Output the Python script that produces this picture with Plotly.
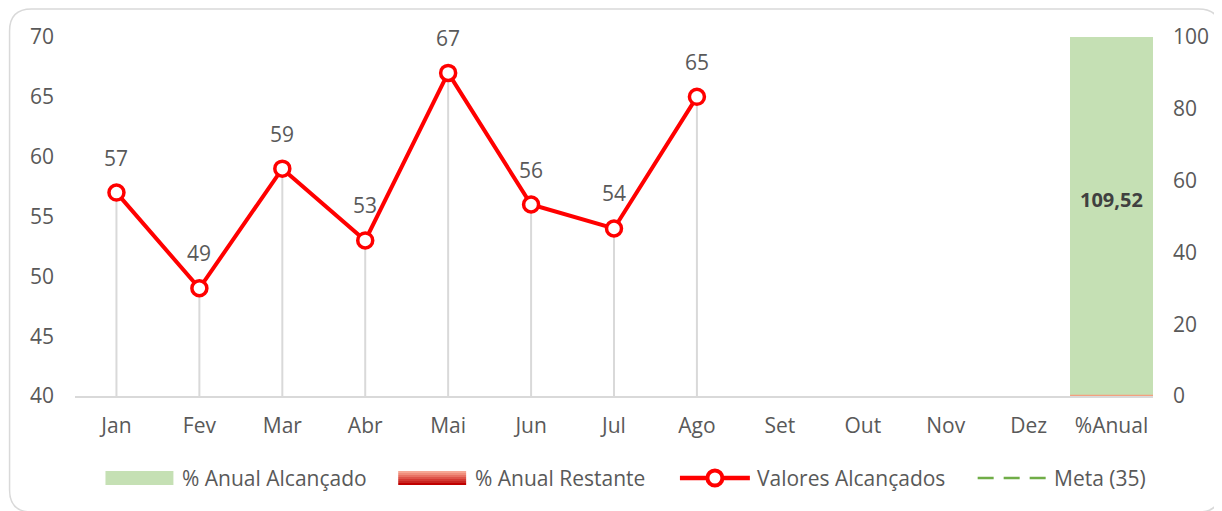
"""Valores alcançados por mês com % anual (estilo Excel)."""

import plotly.graph_objects as go

meses = ["Jan", "Fev", "Mar", "Abr", "Mai", "Jun", "Jul", "Ago", "Set", "Out", "Nov", "Dez", "%Anual"]
valores = [57, 49, 59, 53, 67, 56, 54, 65]
meta = 35
pct_anual = 109.52
pct_restante = max(0, 100 - pct_anual)

W, H = 1222, 511
OFF = 8  # margem do <body> da página
M = dict(l=74.5 - OFF, r=W - 1153.5 + OFF, t=37 - OFF, b=H - 396 + OFF)
FONT = "Open Sans, Noto Sans, sans-serif"
GRAY = "#595959"
FS = 21


def px_x(x):
    return (x - OFF - M["l"]) / (W - M["l"] - M["r"])


def px_y(y):
    return (H - M["b"] - (y - OFF)) / (H - M["t"] - M["b"])


fig = go.Figure()

# barras do % anual (eixo direito)
fig.add_trace(go.Bar(
    x=["%Anual"], y=[pct_anual], yaxis="y2", name="% Anual Alcançado",
    marker=dict(color="#c5e0b4", line=dict(width=0)), showlegend=False,
))
fig.add_trace(go.Bar(
    x=["%Anual"], y=[pct_restante], yaxis="y2", name="% Anual Restante",
    marker=dict(color="#e05050", line=dict(width=0)), showlegend=False,
))

# linhas verticais (drop lines)
fig.add_trace(go.Scatter(
    x=meses[:len(valores)], y=valores, mode="markers", marker=dict(size=0.1, opacity=0),
    error_y=dict(type="data", symmetric=False, array=[0] * len(valores),
                 arrayminus=[v - 40 for v in valores], color="#d9d9d9", thickness=2, width=0),
    showlegend=False, hoverinfo="skip",
))

# meta (fora da escala visível)
fig.add_trace(go.Scatter(
    x=meses, y=[meta] * len(meses), mode="lines", name="Meta (35)",
    line=dict(color="#70ad47", width=2.5, dash="16px,10px"), showlegend=False,
))

fig.add_trace(go.Scatter(
    x=meses[:len(valores)], y=valores, mode="lines+markers", name="Valores Alcançados",
    line=dict(color="#ff0000", width=4),
    marker=dict(size=15, color="white", line=dict(color="#ff0000", width=3.5)),
    showlegend=False,
))

# rótulos dos pontos
for m, v in zip(meses, valores):
    fig.add_annotation(x=m, y=v, text=str(v), showarrow=False, yshift=35,
                       font=dict(size=FS, color=GRAY, family=FONT))

fig.add_annotation(x="%Anual", y=pct_anual / 2, yref="y2", text=f"<b>{pct_anual:.2f}</b>".replace(".", ","),
                   showarrow=False, font=dict(size=20, color="#404040", family=FONT))

shapes = []
# linha fina do % restante
shapes.append(dict(type="line", xref="x", yref="y2", x0=11.5, x1=12.5, y0=pct_restante, y1=pct_restante,
                   line=dict(color="#f4a080", width=2.5)))

# borda arredondada
x0, x1, y0, y1, r = 9, 1221, 9, 512, 22
pts = [
    f"M {px_x(x0 + r)},{px_y(y0)}",
    f"L {px_x(x1 - r)},{px_y(y0)}",
    f"Q {px_x(x1)},{px_y(y0)} {px_x(x1)},{px_y(y0 + r)}",
    f"L {px_x(x1)},{px_y(y1 - r)}",
    f"Q {px_x(x1)},{px_y(y1)} {px_x(x1 - r)},{px_y(y1)}",
    f"L {px_x(x0 + r)},{px_y(y1)}",
    f"Q {px_x(x0)},{px_y(y1)} {px_x(x0)},{px_y(y1 - r)}",
    f"L {px_x(x0)},{px_y(y0 + r)}",
    f"Q {px_x(x0)},{px_y(y0)} {px_x(x0 + r)},{px_y(y0)} Z",
]
shapes.append(dict(type="path", xref="paper", yref="paper", path=" ".join(pts),
                   line=dict(color="#d9d9d9", width=1.5), layer="below"))

# legenda manual
LY = 478
shapes.append(dict(type="rect", xref="paper", yref="paper", x0=px_x(105), x1=px_x(173),
                   y0=px_y(LY + 7), y1=px_y(LY - 7), fillcolor="#c5e0b4", line=dict(width=0)))
grad = ["#f6a693", "#f08e7c", "#e87264", "#de554a", "#d43a33", "#c92420", "#c00000"]
step = 14 / len(grad)
for i, c in enumerate(grad):
    shapes.append(dict(type="rect", xref="paper", yref="paper", x0=px_x(398), x1=px_x(466),
                       y0=px_y(LY - 7 + step * (i + 1)), y1=px_y(LY - 7 + step * i),
                       fillcolor=c, line=dict(width=0)))
shapes.append(dict(type="line", xref="paper", yref="paper", x0=px_x(680), x1=px_x(750),
                   y0=px_y(LY), y1=px_y(LY), line=dict(color="#ff0000", width=4.5)))
shapes.append(dict(type="circle", xref="paper", yref="paper", x0=px_x(707.5), x1=px_x(722.5),
                   y0=px_y(LY + 7.5), y1=px_y(LY - 7.5), fillcolor="white",
                   line=dict(color="#ff0000", width=4)))
shapes.append(dict(type="line", xref="paper", yref="paper", x0=px_x(978), x1=px_x(1049),
                   y0=px_y(LY), y1=px_y(LY), line=dict(color="#70ad47", width=2.5, dash="16px,10px")))

for xt, txt in [(180, "% Anual Alcançado"), (473, "% Anual Restante"),
                (755, "Valores Alcançados"), (1052, "Meta (35)")]:
    fig.add_annotation(xref="paper", yref="paper", x=px_x(xt), y=px_y(LY), text=txt,
                       xanchor="left", yanchor="middle", showarrow=False,
                       font=dict(size=FS, color=GRAY, family=FONT))

fig.update_layout(
    width=W, height=H, margin=M,
    paper_bgcolor="white", plot_bgcolor="white",
    font=dict(family=FONT, color=GRAY, size=FS),
    barmode="stack", bargap=0,
    shapes=shapes,
    xaxis=dict(categoryorder="array", categoryarray=meses, range=[-0.5, len(meses) - 0.5],
               showgrid=False, ticks="", showline=True, linecolor="#d9d9d9", linewidth=1.5,
               ticklabelstandoff=10, tickfont=dict(size=FS, color=GRAY)),
    yaxis=dict(range=[40, 70], dtick=5, showgrid=False, zeroline=False, ticks="",
               ticklabelstandoff=20, tickfont=dict(size=FS, color=GRAY)),
    yaxis2=dict(range=[0, 100], dtick=20, overlaying="y", side="right", showgrid=False,
                zeroline=False, ticks="", ticklabelstandoff=19, tickfont=dict(size=FS, color=GRAY)),
    showlegend=False,
)

fig.write_html("out.html")
